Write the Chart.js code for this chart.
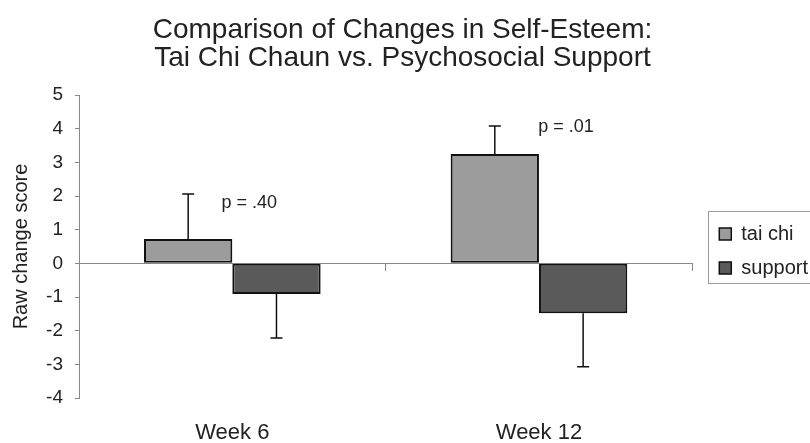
<!DOCTYPE html>
<html>
<head>
<meta charset="utf-8">
<script src="https://cdn.jsdelivr.net/npm/chart.js@4/dist/chart.umd.min.js"></script>
<style>
  html, body { margin: 0; padding: 0; background: #ffffff; }
  #wrap { width: 810px; height: 443px; position: relative; }
</style>
</head>
<body>
<div id="wrap"><canvas id="c"></canvas></div>
<script>
// ---- data ----
const categories = ['Week 6', 'Week 12'];
const seriesNames = ['tai chi', 'support'];
const taiChiValues = [0.72, 3.25];
const supportValues = [-0.91, -1.48];
const taiChiErrors = [1.34, 0.83];
const supportErrors = [1.31, 1.59];
const pValueLabels = ['p = .40', 'p = .01'];
const yTicks = [5, 4, 3, 2, 1, 0, -1, -2, -3, -4];
const titleLines = ['Comparison of Changes in Self-Esteem:', 'Tai Chi Chaun vs. Psychosocial Support'];
const yAxisTitle = 'Raw change score';

const FONT = '"Liberation Sans", Arial, Helvetica, sans-serif';
const TEXT = '#222222';

// annotation anchors (category index, value, pixel offset)
const pAnchors = [
  { cat: 0, value: 1.8, dx: 17 },
  { cat: 1, value: 4.05, dx: 27 }
];

const errorBarPlugin = {
  id: 'errorBars',
  afterDatasetsDraw(chart) {
    const ctx = chart.ctx;
    const yScale = chart.scales.y;
    const errs = [taiChiErrors, supportErrors];
    chart.data.datasets.forEach((ds, i) => {
      const meta = chart.getDatasetMeta(i);
      meta.data.forEach((bar, j) => {
        const v = ds.data[j];
        const e = errs[i][j];
        const end = v >= 0 ? v + e : v - e;
        const y0 = yScale.getPixelForValue(v);
        const y1 = yScale.getPixelForValue(end);
        ctx.save();
        ctx.strokeStyle = '#111111';
        ctx.lineWidth = 1.5;
        ctx.beginPath();
        ctx.moveTo(bar.x, y0);
        ctx.lineTo(bar.x, y1);
        ctx.moveTo(bar.x - 6, y1);
        ctx.lineTo(bar.x + 6, y1);
        ctx.stroke();
        ctx.restore();
      });
    });
  }
};

const annotationPlugin = {
  id: 'pLabels',
  afterDraw(chart) {
    const ctx = chart.ctx;
    const xs = chart.scales.x, ys = chart.scales.y;
    ctx.save();
    ctx.font = '18px ' + FONT;
    ctx.fillStyle = TEXT;
    ctx.textAlign = 'center';
    ctx.textBaseline = 'middle';
    pAnchors.forEach((a, i) => {
      const x = xs.getPixelForValue(a.cat) + a.dx;
      const y = ys.getPixelForValue(a.value);
      ctx.fillText(pValueLabels[i], x, y);
    });
    ctx.restore();
  }
};

const legendBoxPlugin = {
  id: 'legendBox',
  afterLayout(chart) {
    const lg = chart.legend;
    if (!lg) return;
    lg.left += 13; lg.right += 13;
    const d = 251 - (lg.top + lg.bottom) / 2;
    lg.top += d; lg.bottom += d;
  },
  afterDraw(chart) {
    const lg = chart.legend;
    if (!lg) return;
    const ctx = chart.ctx;
    const cy = (lg.top + lg.bottom) / 2;
    const left = lg.left + 3;
    ctx.save();
    ctx.strokeStyle = '#9a9a9a';
    ctx.lineWidth = 1;
    ctx.strokeRect(Math.round(left) + 0.5, Math.round(cy - 40) + 0.5, 830 - left, 72);
    ctx.restore();
  }
};

new Chart(document.getElementById('c'), {
  type: 'bar',
  data: {
    labels: categories,
    datasets: [
      {
        label: seriesNames[0],
        data: taiChiValues,
        backgroundColor: '#9c9c9c',
        borderColor: '#111111',
        borderWidth: 2,
        borderSkipped: false
      },
      {
        label: seriesNames[1],
        data: supportValues,
        backgroundColor: '#5a5a5a',
        borderColor: '#111111',
        borderWidth: 2,
        borderSkipped: false
      }
    ]
  },
  options: {
    responsive: true,
    maintainAspectRatio: false,
    animation: false,
    devicePixelRatio: 1,
    layout: { padding: { left: 0, right: 5, top: 0, bottom: 0 } },
    datasets: { bar: { categoryPercentage: 0.576, barPercentage: 1.0 } },
    plugins: {
      tooltip: { enabled: false },
      title: {
        display: true,
        text: titleLines,
        color: TEXT,
        font: { family: FONT, size: 28, weight: 'normal', lineHeight: 1.0 },
        padding: { top: 16, bottom: 23 }
      },
      legend: {
        display: true,
        position: 'right',
        labels: {
          color: TEXT,
          font: { family: FONT, size: 20 },
          boxWidth: 12,
          boxHeight: 12,
          padding: 14,
          generateLabels(chart) {
            return chart.data.datasets.map((ds, i) => ({
              text: ds.label,
              fillStyle: ds.backgroundColor,
              strokeStyle: '#111111',
              lineWidth: 1.5,
              fontColor: TEXT,
              hidden: false,
              datasetIndex: i
            }));
          }
        }
      }
    },
    scales: {
      x: {
        type: 'category',
        position: 'bottom',
        offset: true,
        grid: { display: false, drawTicks: false },
        border: { display: false },
        ticks: {
          color: TEXT,
          font: { family: FONT, size: 22 },
          padding: 22
        },
        afterFit(scale) { scale.height = 45; }
      },
      x2: {
        type: 'category',
        axis: 'x',
        position: { y: 0 },
        offset: true,
        grid: {
          display: true,
          offset: true,
          drawOnChartArea: false,
          drawTicks: true,
          tickLength: 7,
          color: '#888888',
          tickColor: '#888888'
        },
        border: { display: true, color: '#888888', width: 1 },
        ticks: { display: false }
      },
      y: {
        type: 'linear',
        min: -4,
        max: 5,
        afterBuildTicks(scale) { scale.ticks = yTicks.map(v => ({ value: v })); },
        grid: {
          display: true,
          drawOnChartArea: false,
          drawTicks: true,
          tickLength: 4,
          tickColor: '#888888',
          color: '#888888'
        },
        border: { display: true, color: '#888888', width: 1 },
        ticks: {
          color: TEXT,
          font: { family: FONT, size: 19 },
          padding: 12
        },
        title: {
          display: true,
          text: yAxisTitle,
          color: TEXT,
          font: { family: FONT, size: 20 },
          padding: { top: 9, bottom: 0 }
        },
        afterFit(scale) { scale.width = 79; }
      }
    }
  },
  plugins: [errorBarPlugin, annotationPlugin, legendBoxPlugin]
});
</script>
</body>
</html>
